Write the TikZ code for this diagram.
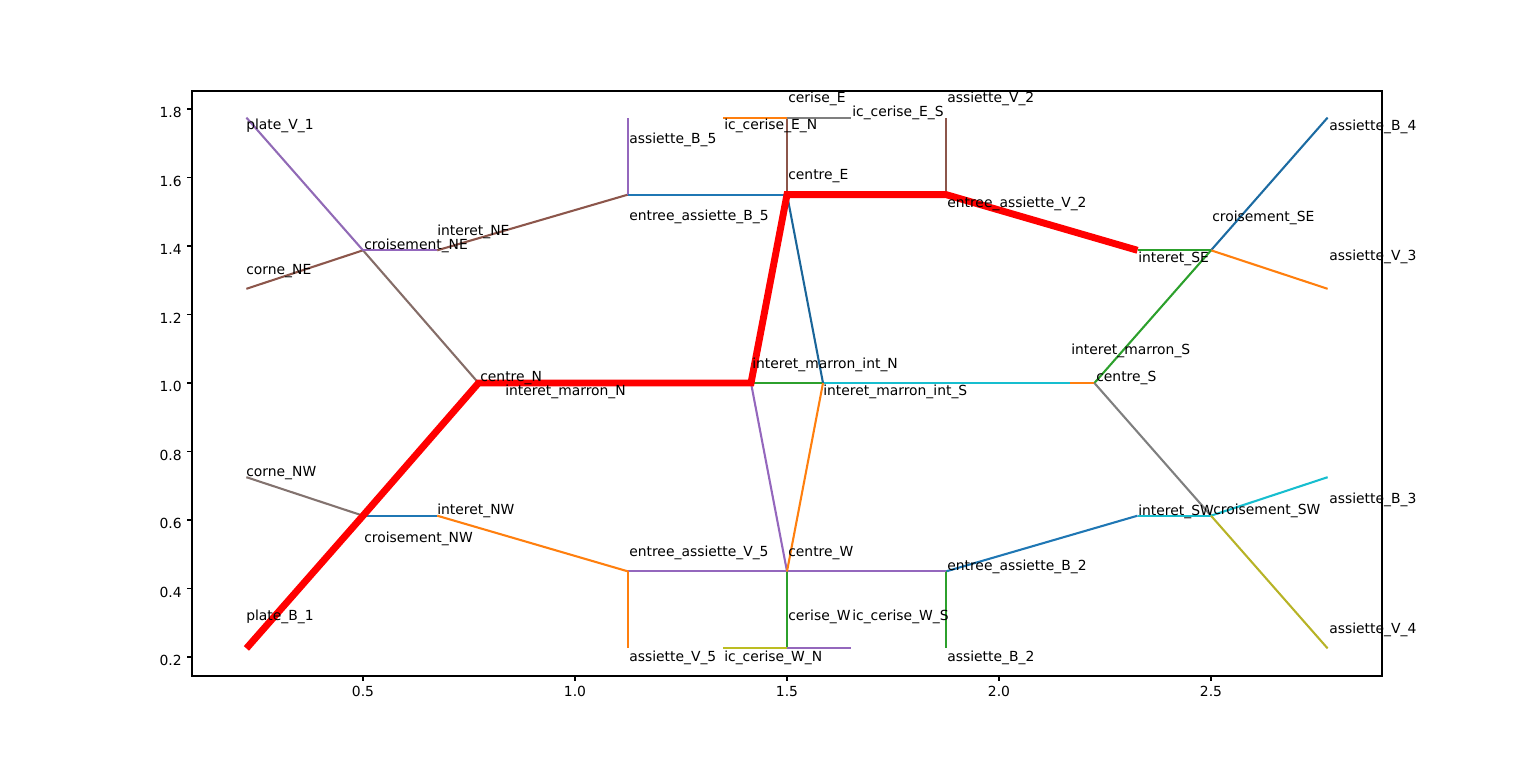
\documentclass[tikz,border=0pt]{standalone}
\usepackage{fontspec}
\setmainfont{DejaVu Sans}
\definecolor{tabblue}{HTML}{1F77B4}
\definecolor{taborange}{HTML}{FF7F0E}
\definecolor{tabgreen}{HTML}{2CA02C}
\definecolor{tabpurple}{HTML}{9467BD}
\definecolor{tabbrown}{HTML}{8C564B}
\definecolor{tabgray}{HTML}{7F7F7F}
\definecolor{tabolive}{HTML}{BCBD22}
\definecolor{tabcyan}{HTML}{17BECF}
\definecolor{pathred}{HTML}{FF0000}
\begin{document}
\begin{tikzpicture}[x=0.72pt,y=-0.72pt,
  edge/.style={line width=1.5pt,line cap=butt},
  bestpath/.style={line width=5pt,color=pathred,line join=miter,line cap=butt},
  lbl/.style={anchor=west,inner sep=0pt,font=\fontsize{10pt}{12pt}\selectfont,text height=7.4pt,text depth=2.4pt},
  ticklbl/.style={inner sep=0pt,font=\fontsize{10pt}{12pt}\selectfont,text height=7.3pt,text depth=0pt},
  axisline/.style={line width=0.8pt,black}]
\useasboundingbox (0,0) rectangle (1536,759);
% graph points
\coordinate (plateV1) at (246.4,117.6);
\coordinate (corneNE) at (246.4,288.8);
\coordinate (croisNE) at (363,250.3);
\coordinate (intNE) at (437.2,250.3);
\coordinate (eaB5) at (628,194.6);
\coordinate (aB5) at (628,117.6);
\coordinate (centreE) at (787,194.6);
\coordinate (ceriseE) at (787,117.6);
\coordinate (icEN) at (723.4,117.6);
\coordinate (icES) at (850.6,117.6);
\coordinate (aV2) at (946,117.6);
\coordinate (eaV2) at (946,194.6);
\coordinate (intSE) at (1137.5,250.3);
\coordinate (croisSE) at (1211,250.3);
\coordinate (aB4) at (1327.6,117.6);
\coordinate (aV3) at (1327.6,288.8);
\coordinate (centreN) at (478.5,383);
\coordinate (intMN) at (504.3,383);
\coordinate (imiN) at (751,383);
\coordinate (imiS) at (823,383);
\coordinate (intMS) at (1069.7,383);
\coordinate (centreS) at (1094.4,383);
\coordinate (croisSW) at (1211,515.7);
\coordinate (intSW) at (1137.5,515.7);
\coordinate (aB3) at (1327.6,477.2);
\coordinate (aV4) at (1327.6,648.4);
\coordinate (eaB2) at (946,571.4);
\coordinate (aB2) at (946,648.4);
\coordinate (centreW) at (787,571.4);
\coordinate (ceriseW) at (787,648.4);
\coordinate (icWN) at (723.4,648.4);
\coordinate (icWS) at (850.6,648.4);
\coordinate (eaV5) at (628,571.4);
\coordinate (aV5) at (628,648.4);
\coordinate (intNW) at (437.2,515.7);
\coordinate (croisNW) at (363,515.7);
\coordinate (corneNW) at (246.4,477.2);
\coordinate (plateB1) at (246.4,648.4);
% axes frame
\coordinate (axNW) at (192,91);
\coordinate (axSE) at (1382,676);
\draw[axisline] (axNW) rectangle (axSE);
% x ticks
\foreach \xp/\xl in {363/0.5,575/1.0,787/1.5,999/2.0,1211/2.5}{
  \draw[axisline] (\xp,676) -- (\xp,681);
  \node[ticklbl,anchor=north] at (\xp,686) {\xl};
}
% y ticks
\foreach \yp/\yl in {657/0.2,588.5/0.4,520/0.6,451.5/0.8,383/1.0,314.5/1.2,246/1.4,177.5/1.6,109/1.8}{
  \draw[axisline] (187,\yp) -- (192,\yp);
  \node[ticklbl,anchor=east] at (182,\yp+3.6) {\yl};
}
% edges
\draw[edge,color=tabbrown] (corneNE) -- (croisNE);
\draw[edge,color=tabbrown!45!tabgray] (croisNE) -- (centreN);
\draw[edge,color=tabpurple!88!tabgray] (plateV1) -- (croisNE);
\draw[edge,color=tabpurple] (croisNE) -- (intNE);
\draw[edge,color=tabbrown] (intNE) -- (eaB5);
\draw[edge,color=tabpurple] (eaB5) -- (aB5);
\draw[edge,color=tabblue] (eaB5) -- (centreE);
\draw[edge,color=tabbrown] (centreE) -- (ceriseE);
\draw[edge,color=taborange] (icEN) -- (ceriseE);
\draw[edge,color=tabgray] (ceriseE) -- (icES);
\draw[edge,color=tabbrown] (eaV2) -- (aV2);
\draw[edge,color=tabgreen] (intSE) -- (croisSE);
\draw[edge,color=tabblue!90!black] (croisSE) -- (aB4);
\draw[edge,color=taborange] (croisSE) -- (aV3);
\draw[edge,color=tabgreen] (croisSE) -- (centreS);
\draw[edge,color=tabcyan] (imiS) -- (intMS);
\draw[edge,color=taborange] (intMS) -- (centreS);
\draw[edge,color=tabgray] (centreS) -- (croisSW);
\draw[edge,color=tabcyan] (intSW) -- (croisSW);
\draw[edge,color=tabcyan] (croisSW) -- (aB3);
\draw[edge,color=tabolive!90!tabbrown] (croisSW) -- (aV4);
\draw[edge,color=tabblue] (eaB2) -- (intSW);
\draw[edge,color=tabgreen] (eaB2) -- (aB2);
\draw[edge,color=tabpurple] (centreW) -- (eaB2);
\draw[edge,color=tabgreen] (centreW) -- (ceriseW);
\draw[edge,color=tabolive] (icWN) -- (ceriseW);
\draw[edge,color=tabpurple] (ceriseW) -- (icWS);
\draw[edge,color=tabpurple] (eaV5) -- (centreW);
\draw[edge,color=taborange] (eaV5) -- (aV5);
\draw[edge,color=taborange] (intNW) -- (eaV5);
\draw[edge,color=tabblue] (croisNW) -- (intNW);
\draw[edge,color=tabgray!70!tabbrown] (corneNW) -- (croisNW);
\draw[edge,color=tabgreen] (imiN) -- (imiS);
\draw[edge,color=tabblue!85!black] (imiS) -- (centreE);
\draw[edge,color=tabpurple] (imiN) -- (centreW);
\draw[edge,color=taborange] (imiS) -- (centreW);
% best path
\draw[bestpath] (plateB1) -- (croisNW) -- (centreN) -- (intMN) -- (imiN) -- (centreE) -- (eaV2) -- (intSE);
% labels
\node[lbl] (lplateV1) at (246,126) {plate\_V\_1};
\node[lbl] (lcorneNE) at (246,271) {corne\_NE};
\node[lbl] (lcroisNE) at (364,246) {croisement\_NE};
\node[lbl] (lintNE) at (437,232) {interet\_NE};
\node[lbl] (laB5) at (629,140) {assiette\_B\_5};
\node[lbl] (leaB5) at (629,217) {entree\_assiette\_B\_5};
\node[lbl] (licEN) at (724,126) {ic\_cerise\_E\_N};
\node[lbl] (lceriseE) at (788,99) {cerise\_E};
\node[lbl] (licES) at (852,113) {ic\_cerise\_E\_S};
\node[lbl] (lcentreE) at (788,176) {centre\_E};
\node[lbl] (laV2) at (947,99) {assiette\_V\_2};
\node[lbl] (leaV2) at (947,204) {entree\_assiette\_V\_2};
\node[lbl] (laB4) at (1329,127) {assiette\_B\_4};
\node[lbl] (lcroisSE) at (1212,218) {croisement\_SE};
\node[lbl] (lintSE) at (1138,259) {interet\_SE};
\node[lbl] (laV3) at (1329,257) {assiette\_V\_3};
\node[lbl] (lintMS) at (1071,351) {interet\_marron\_S};
\node[lbl] (lcentreS) at (1096,378) {centre\_S};
\node[lbl] (lcentreN) at (480,378) {centre\_N};
\node[lbl] (lintMN) at (505,392) {interet\_marron\_N};
\node[lbl] (limiN) at (752,365) {interet\_marron\_int\_N};
\node[lbl] (limiS) at (823,392) {interet\_marron\_int\_S};
\node[lbl] (lcorneNW) at (246,473) {corne\_NW};
\node[lbl] (lintNW) at (437,511) {interet\_NW};
\node[lbl] (lcroisNW) at (364,539) {croisement\_NW};
\node[lbl] (leaV5) at (629,553) {entree\_assiette\_V\_5};
\node[lbl] (lplateB1) at (246,617) {plate\_B\_1};
\node[lbl] (laV5) at (629,658) {assiette\_V\_5};
\node[lbl] (lcentreW) at (788,553) {centre\_W};
\node[lbl] (leaB2) at (947,567) {entree\_assiette\_B\_2};
\node[lbl] (lceriseW) at (788,617) {cerise\_W};
\node[lbl] (licWS) at (852,617) {ic\_cerise\_W\_S};
\node[lbl] (licWN) at (724,658) {ic\_cerise\_W\_N};
\node[lbl] (laB2) at (947,658) {assiette\_B\_2};
\node[lbl] (lintSW) at (1138,512) {interet\_SW};
\node[lbl] (lcroisSW) at (1213,511) {croisement\_SW};
\node[lbl] (laB3) at (1329,500) {assiette\_B\_3};
\node[lbl] (laV4) at (1329,630) {assiette\_V\_4};
\end{tikzpicture}
\end{document}
